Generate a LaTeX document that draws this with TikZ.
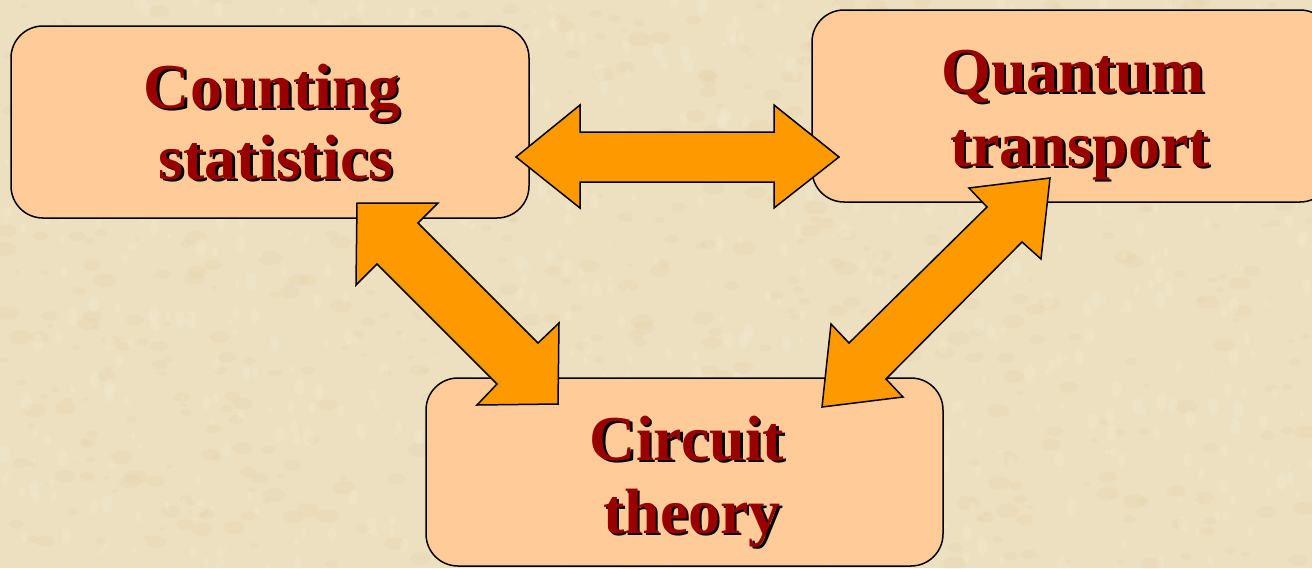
\documentclass[tikz,border=0pt]{standalone}
\usepackage{fontspec}
\newfontfamily\titlefont{Liberation Serif}[BoldFont={Liberation Serif Bold}]
\definecolor{bgcol}{HTML}{EDE0C0}
\definecolor{bgdark}{HTML}{D9C18F}
\definecolor{bglight}{HTML}{F8F0D8}
\definecolor{boxfill}{HTML}{FFCC99}
\definecolor{arrowfill}{HTML}{FF9900}
\definecolor{txtred}{HTML}{990000}
\newcommand{\shadowtext}[1]{\makebox[0pt][l]{\hspace{2.5pt}\raisebox{-2.5pt}{\color{black}#1}}#1}
\tikzset{
  topicbox/.style={draw=black, line width=1.5pt, fill=boxfill, rounded corners=32pt,
    inner sep=0pt, minimum width=#1},
  boxheight/.style={minimum height=#1},
  label text/.style={anchor=base, inner sep=0pt, text=txtred,
    font=\titlefont\bfseries\fontsize{64}{72}\selectfont},
  blockarrow/.style={draw=black, line width=1.5pt, fill=arrowfill, line join=miter},
}
\begin{document}
\begin{tikzpicture}[x=1pt, y=-1pt]
\useasboundingbox (0,0) rectangle (1312,568);
\begin{scope}
\clip (0,0) rectangle (1312,568);
\fill[bgcol] (0,0) rectangle (1312,568);
\pgfmathsetseed{4242}
\foreach \i in {1,...,700} {
  \pgfmathsetmacro{\px}{rnd*1312}
  \pgfmathsetmacro{\py}{rnd*568}
  \pgfmathsetmacro{\rr}{3+rnd*9}
  \fill[bgdark, opacity=0.10] (\px,\py) ellipse ({\rr pt} and {0.6*\rr pt});
}
\foreach \i in {1,...,700} {
  \pgfmathsetmacro{\px}{rnd*1312}
  \pgfmathsetmacro{\py}{rnd*568}
  \pgfmathsetmacro{\rr}{2+rnd*7}
  \fill[bglight, opacity=0.22] (\px,\py) ellipse ({0.6*\rr pt} and {\rr pt});
}

% boxes
\node[topicbox=518pt, boxheight=192pt] (counting) at (270,122) {};
\node[topicbox=520pt, boxheight=192pt] (quantum) at (1072,106) {};
\node[topicbox=517pt, boxheight=188pt] (circuit) at (684.5,472) {};

% texts
\node[label text] (counting1) at (272,108) {\shadowtext{Counting}};
\node[label text] (counting2) at (276,179) {\shadowtext{statistics}};
\node[label text] (quantum1) at (1073,92) {\shadowtext{Quantum}};
\node[label text] (quantum2) at (1080,166) {\shadowtext{transport}};
\node[label text] (circuit1) at (687,460) {\shadowtext{Circuit}};
\node[label text] (circuit2) at (692,533) {\shadowtext{theory}};

% block arrows
\coordinate (cqL) at (516,157);
\coordinate (cqR) at (839,157);
\draw[blockarrow] (cqL) -- (580,105) -- (580,132) -- (774,132) -- (774,105) -- (cqR)
  -- (774,208) -- (774,182) -- (580,182) -- (580,208) -- cycle;

\coordinate (ccA) at (357,203);
\coordinate (ccB) at (558,404);
\draw[blockarrow] (ccA) -- (438,203) -- (418,223) -- (538,343) -- (559,323) -- (ccB)
  -- (477,405) -- (497,384) -- (377,264) -- (356,285) -- cycle;

\coordinate (qcA) at (1050,178);
\coordinate (qcB) at (822,407);
\draw[blockarrow] (qcA) -- (969,188) -- (987,207) -- (849,343) -- (831,324) -- (qcB)
  -- (903,397) -- (886,379) -- (1022,242) -- (1041,259) -- cycle;
\end{scope}
\end{tikzpicture}
\end{document}
